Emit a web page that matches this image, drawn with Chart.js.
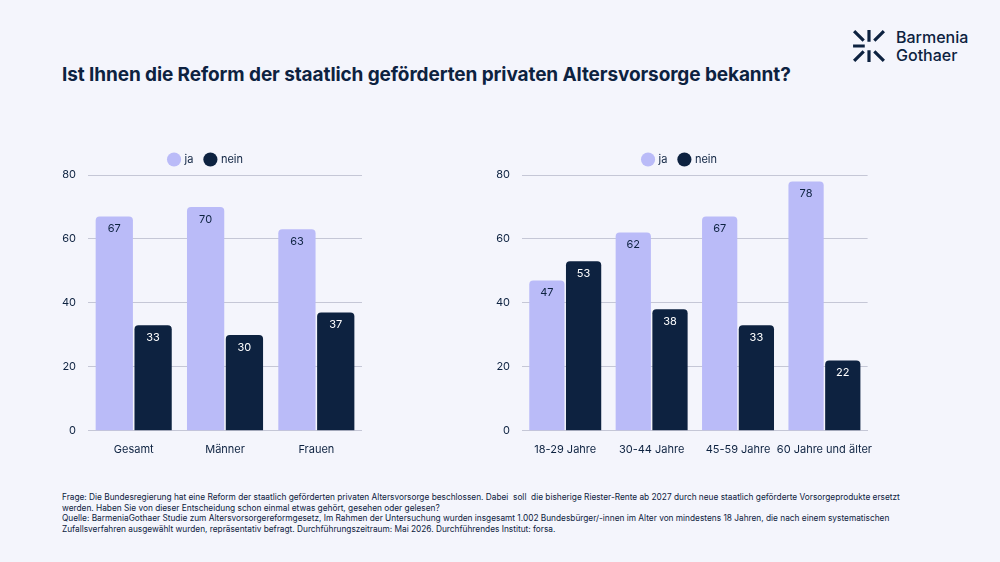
<!DOCTYPE html>
<html><head><meta charset="utf-8">
<script src="https://cdn.jsdelivr.net/npm/chart.js@4"></script>
<style>
body{margin:0;width:1000px;height:562px;background:#f4f5fc;font-family:Inter,"Noto Sans",sans-serif;color:#0d2240;position:relative;overflow:hidden}
h1{position:absolute;left:62px;top:63px;margin:0;font-size:19px;font-weight:700;letter-spacing:-0.1px}
.logo{position:absolute;left:852px;top:28px;display:flex;align-items:center;gap:10px}
.logo span{font-size:16px;line-height:18px;font-weight:500}
.box{position:absolute}
.note{position:absolute;left:62px;top:492px;width:840px;font-size:8.3px;line-height:10.5px}
</style></head><body>
<h1>Ist Ihnen die Reform der staatlich geförderten privaten Altersvorsorge bekannt?</h1>
<div class="logo"><svg width="34" height="34" viewBox="0 0 32 32" stroke="#0d2240" stroke-width="3" fill="none"><path d="M2 2L11 11M30 2L21 11M16 1V12M2 30L11 21M30 30L21 21M16 31V20M1 16H12"/></svg><span>Barmenia<br>Gothaer</span></div>
<div class="box" style="left:50px;top:142px;width:312px;height:318px"><canvas id="c1"></canvas></div>
<div class="box" style="left:484px;top:142px;width:392px;height:318px"><canvas id="c2"></canvas></div>
<div class="note">Frage: Die Bundesregierung hat eine Reform der staatlich geförderten privaten Altersvorsorge beschlossen. Dabei &nbsp;soll &nbsp;die bisherige Riester-Rente ab 2027 durch neue staatlich geförderte Vorsorgeprodukte ersetzt werden. Haben Sie von dieser Entscheidung schon einmal etwas gehört, gesehen oder gelesen?<br>Quelle: BarmeniaGothaer Studie zum Altersvorsorgereformgesetz, Im Rahmen der Untersuchung wurden insgesamt 1.002 Bundesbürger/-innen im Alter von mindestens 18 Jahren, die nach einem systematischen Zufallsverfahren ausgewählt wurden, repräsentativ befragt. Durchführungszeitraum: Mai 2026. Durchführendes Institut: forsa.</div>
<script>
const labels1 = ['Gesamt', 'Männer', 'Frauen'];
const ja1 = [67, 70, 63];
const nein1 = [33, 30, 37];
const labels2 = ['18-29 Jahre', '30-44 Jahre', '45-59 Jahre', '60 Jahre und älter'];
const ja2 = [47, 62, 67, 78];
const nein2 = [53, 38, 33, 22];
const yTicks = [0, 20, 40, 60, 80];

const JA = '#babbf8', NEIN = '#0d2240';
Chart.defaults.font.family = 'Inter, "Noto Sans", sans-serif';
Chart.defaults.color = '#0d2240';

const valueLabels = {
    id: 'valueLabels',
    afterDatasetsDraw(chart) {
        const ctx = chart.ctx;
        ctx.save();
        ctx.font = '11px Inter, "Noto Sans", sans-serif';
        ctx.textAlign = 'center';
        ctx.textBaseline = 'top';
        chart.data.datasets.forEach((ds, i) => {
            chart.getDatasetMeta(i).data.forEach((bar, j) => {
                ctx.fillStyle = i === 0 ? '#0d2240' : '#ffffff';
                ctx.fillText(ds.data[j], bar.x, bar.y + 7);
            });
        });
        ctx.restore();
    }
};

function makeChart(id, labels, ja, nein) {
    new Chart(document.getElementById(id), {
        type: 'bar',
        data: {
            labels: labels,
            datasets: [
                { label: 'ja', data: ja, backgroundColor: JA, borderRadius: { topLeft: 4, topRight: 4 }, borderSkipped: 'bottom' },
                { label: 'nein', data: nein, backgroundColor: NEIN, borderRadius: { topLeft: 4, topRight: 4 }, borderSkipped: 'bottom' }
            ]
        },
        options: {
            responsive: true,
            maintainAspectRatio: false,
            animation: false,
            datasets: { bar: { categoryPercentage: 0.85, barPercentage: 0.96 } },
            plugins: {
                legend: {
                    position: 'top',
                    labels: { usePointStyle: true, pointStyle: 'circle', boxWidth: 10, boxHeight: 10, padding: 12, font: { size: 11 } }
                },
                tooltip: { enabled: false }
            },
            scales: {
                y: {
                    min: 0, max: 80,
                    afterBuildTicks: axis => { axis.ticks = yTicks.map(v => ({ value: v })); },
                    grid: { color: '#c5c7d6', drawTicks: false },
                    border: { display: false },
                    ticks: { padding: 12, font: { size: 11 } }
                },
                x: {
                    grid: { display: false },
                    border: { color: '#c5c7d6' },
                    ticks: { font: { size: 11 }, padding: 4, maxRotation: 0, autoSkip: false }
                }
            }
        },
        plugins: [valueLabels]
    });
}

makeChart('c1', labels1, ja1, nein1);
makeChart('c2', labels2, ja2, nein2);
</script>
</body></html>
